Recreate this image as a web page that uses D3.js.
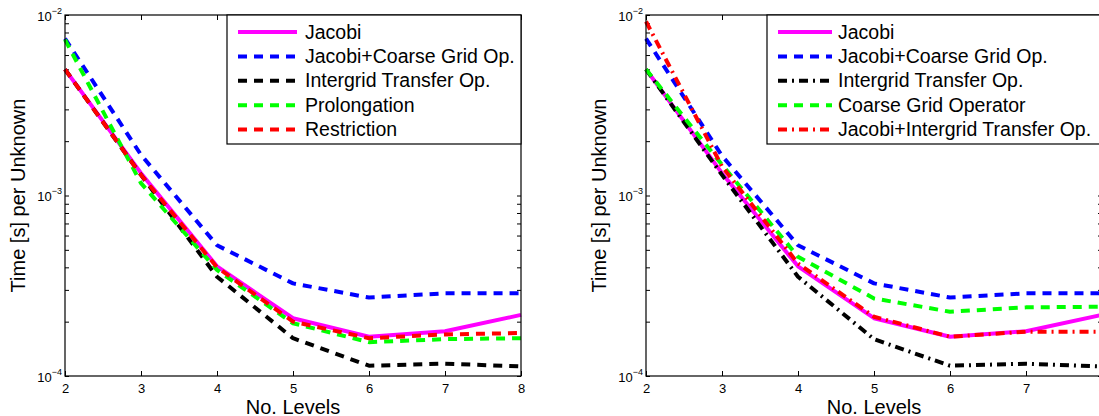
<!DOCTYPE html>
<html>
<head>
<meta charset="utf-8">
<script src="https://cdn.jsdelivr.net/npm/d3@7"></script>
<style>
  body { margin: 0; background: #fff; }
  svg { font-family: "Liberation Sans", Arial, sans-serif; }
  .axis path { display: none; }
  .axis line { stroke: #000; stroke-width: 1; }
  .axis text { font-size: 13px; fill: #000; font-family: "Liberation Sans", Arial, sans-serif; }
</style>
</head>
<body>
<div id="chart"></div>
<script>
// ---- data ----
var levels = [2, 3, 4, 5, 6, 7, 8];

// left panel
var leftJacobi        = [5.0e-3, 1.33e-3, 4.05e-4, 2.09e-4, 1.65e-4, 1.77e-4, 2.18e-4];
var leftJacobiCoarse  = [7.4e-3, 1.68e-3, 5.3e-4, 3.26e-4, 2.72e-4, 2.87e-4, 2.87e-4];
var leftIntergrid     = [5.0e-3, 1.30e-3, 3.55e-4, 1.62e-4, 1.14e-4, 1.17e-4, 1.13e-4];
var leftProlongation  = [7.3e-3, 1.17e-3, 3.87e-4, 1.96e-4, 1.54e-4, 1.60e-4, 1.62e-4];
var leftRestriction   = [5.0e-3, 1.30e-3, 4.0e-4, 2.0e-4, 1.62e-4, 1.70e-4, 1.73e-4];

// right panel
var rightJacobi          = [5.0e-3, 1.33e-3, 4.05e-4, 2.09e-4, 1.65e-4, 1.77e-4, 2.18e-4];
var rightJacobiCoarse    = [7.4e-3, 1.66e-3, 5.3e-4, 3.26e-4, 2.72e-4, 2.87e-4, 2.87e-4];
var rightIntergrid       = [5.0e-3, 1.30e-3, 3.55e-4, 1.60e-4, 1.14e-4, 1.17e-4, 1.13e-4];
var rightCoarseGrid      = [5.0e-3, 1.48e-3, 4.58e-4, 2.69e-4, 2.27e-4, 2.40e-4, 2.42e-4];
var rightJacobiIntergrid = [9.2e-3, 1.45e-3, 4.2e-4, 2.13e-4, 1.65e-4, 1.76e-4, 1.76e-4];

var leftNames  = ["Jacobi", "Jacobi+Coarse Grid Op.", "Intergrid Transfer Op.", "Prolongation", "Restriction"];
var rightNames = ["Jacobi", "Jacobi+Coarse Grid Op.", "Intergrid Transfer Op.", "Coarse Grid Operator", "Jacobi+Intergrid Transfer Op."];

var yMajor = [1e-4, 1e-3, 1e-2];
var yExp   = [-4, -3, -2];

(function() {
// ---- layout ----
var W = 1099, H = 416;
var plotTop = 15, plotH = 361, plotW = 456;

var svg = d3.select("#chart").append("svg")
  .attr("width", W).attr("height", H);

var DASH = "9,7", DASHDOT = "9,5,2,5";

var panels = [
  {
    left: 65, legLeft: 162, legLine: [11, 70], legText: 78,
    names: leftNames,
    series: [leftJacobi, leftJacobiCoarse, leftIntergrid, leftProlongation, leftRestriction],
    colors: ["#ff00ff", "#0000ff", "#000000", "#00ff00", "#ff0000"],
    dashes: [null, DASH, DASH, DASH, DASH],
    widths: [4, 4, 4, 4, 4]
  },
  {
    left: 646, legLeft: 121, legLine: [11, 65], legText: 71,
    names: rightNames,
    series: [rightJacobi, rightJacobiCoarse, rightIntergrid, rightCoarseGrid, rightJacobiIntergrid],
    colors: ["#ff00ff", "#0000ff", "#000000", "#00ff00", "#ff0000"],
    dashes: [null, DASH, DASHDOT, DASH, DASHDOT],
    widths: [4, 4, 4, 4, 4]
  }
];

// minor tick values for log axis
var yTicksAll = [];
[1e-4, 1e-3].forEach(function(d) {
  for (var k = 1; k <= 9; k++) yTicksAll.push(d * k);
});
yTicksAll.push(1e-2);

panels.forEach(function(p) {
  var x = d3.scaleLinear().domain([2, 8]).range([0, plotW]);
  var y = d3.scaleLog().domain([1e-4, 1e-2]).range([plotH, 0]);

  var g = svg.append("g").attr("transform", "translate(" + p.left + "," + plotTop + ")");

  g.append("rect").attr("width", plotW).attr("height", plotH).attr("fill", "#fff");

  // x axes (ticks inside)
  g.append("g").attr("class", "axis")
    .attr("transform", "translate(0," + plotH + ")")
    .call(d3.axisBottom(x).tickValues(levels).tickSize(-5).tickPadding(8).tickFormat(d3.format("d")));
  g.append("g").attr("class", "axis")
    .call(d3.axisTop(x).tickValues(levels).tickSize(-5).tickFormat(""));

  // y axes (minor + major ticks inside)
  var yl = g.append("g").attr("class", "axis")
    .call(d3.axisLeft(y).tickValues(yTicksAll).tickSize(-4).tickFormat(""));
  var yr = g.append("g").attr("class", "axis")
    .attr("transform", "translate(" + plotW + ",0)")
    .call(d3.axisRight(y).tickValues(yTicksAll).tickSize(-4).tickFormat(""));
  [yl, yr].forEach(function(ax) {
    ax.selectAll(".tick line").attr("stroke", "#444");
  });

  // y tick labels 10^n
  yMajor.forEach(function(v, i) {
    var t = g.append("text")
      .attr("x", -3).attr("y", y(v) + 5.5)
      .attr("text-anchor", "end")
      .attr("font-size", 13);
    t.append("tspan").text("10");
    t.append("tspan").attr("dy", -7).attr("font-size", 9).text("\u2212" + Math.abs(yExp[i]));
  });

  // series
  var line = d3.line()
    .x(function(d, i) { return x(levels[i]); })
    .y(function(d) { return y(d); });

  p.series.forEach(function(s, i) {
    g.append("path")
      .datum(s)
      .attr("d", line)
      .attr("fill", "none")
      .attr("stroke", p.colors[i])
      .attr("stroke-width", p.widths[i])
      .attr("stroke-dasharray", p.dashes[i])
      .attr("stroke-linejoin", "round");
  });

  // box
  g.append("rect").attr("width", plotW).attr("height", plotH)
    .attr("fill", "none").attr("stroke", "#000").attr("stroke-width", 1.2);

  // legend
  var leg = g.append("g").attr("transform", "translate(" + p.legLeft + ",0)");
  leg.append("rect")
    .attr("width", plotW - p.legLeft).attr("height", 129)
    .attr("fill", "#fff").attr("stroke", "#000").attr("stroke-width", 1.2);
  p.names.forEach(function(n, i) {
    var ry = 17 + i * 24.4;
    leg.append("line")
      .attr("x1", p.legLine[0]).attr("x2", p.legLine[1])
      .attr("y1", ry).attr("y2", ry)
      .attr("stroke", p.colors[i])
      .attr("stroke-width", p.widths[i])
      .attr("stroke-dasharray", p.dashes[i]);
    leg.append("text")
      .attr("x", p.legText).attr("y", ry + 6.5)
      .attr("font-size", 19.5)
      .text(n);
  });

  // axis labels
  g.append("text")
    .attr("transform", "translate(-40," + plotH / 2 + ") rotate(-90)")
    .attr("text-anchor", "middle")
    .attr("font-size", 20)
    .text("Time [s] per Unknown");
  g.append("text")
    .attr("x", plotW / 2).attr("y", plotH + 38)
    .attr("text-anchor", "middle")
    .attr("font-size", 20)
    .text("No. Levels");
});
})();
</script>
</body>
</html>
